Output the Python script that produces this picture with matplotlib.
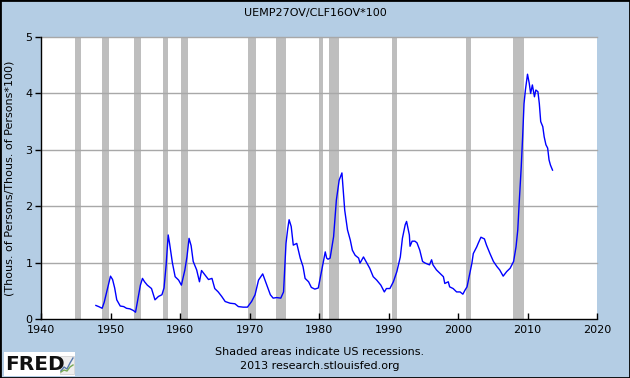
import matplotlib
matplotlib.use("Agg")
import matplotlib.pyplot as plt
import matplotlib.patches as mpatches

# series (decimal year, percent)
years = [1947.9, 1948.3, 1948.8, 1949.1, 1949.45, 1949.8, 1950.0, 1950.3, 1950.6, 1950.9,
         1951.4, 1951.9, 1952.3, 1952.8, 1953.3, 1953.6, 1954.0, 1954.3, 1954.6, 1954.9,
         1955.3, 1955.9, 1956.4, 1956.9, 1957.4, 1957.7, 1958.0, 1958.3, 1958.5, 1958.9,
         1959.3, 1959.8, 1960.2, 1960.7, 1961.0, 1961.3, 1961.6, 1961.9, 1962.4, 1962.8,
         1963.1, 1963.6, 1964.1, 1964.6, 1965.0, 1965.5, 1966.0, 1966.5, 1967.2, 1967.9,
         1968.4, 1969.1, 1969.7, 1970.3, 1970.8, 1971.3, 1971.9, 1972.4, 1973.0, 1973.4,
         1973.9, 1974.5, 1974.9, 1975.25, 1975.5, 1975.7, 1976.0, 1976.3, 1976.8, 1977.3,
         1977.7, 1978.0, 1978.5, 1978.9, 1979.4, 1979.9, 1980.4, 1980.9, 1981.1, 1981.3,
         1981.6, 1982.1, 1982.5, 1982.9, 1983.3, 1983.5, 1983.7, 1984.1, 1984.5, 1984.8,
         1985.2, 1985.7, 1985.9, 1986.4, 1986.9, 1987.3, 1987.8, 1988.3, 1988.9, 1989.4,
         1989.7, 1990.2, 1990.7, 1991.2, 1991.7, 1992.0, 1992.4, 1992.6, 1993.0, 1993.1,
         1993.4, 1993.8, 1994.1, 1994.5, 1994.9, 1995.3, 1995.9, 1996.2, 1996.4, 1996.9,
         1997.4, 1997.9, 1998.1, 1998.6, 1998.8, 1999.3, 1999.8, 2000.3, 2000.7, 2001.0,
         2001.3, 2001.6, 2002.0, 2002.2, 2002.7, 2002.9, 2003.3, 2003.8, 2004.1, 2004.6,
         2005.1, 2005.6, 2006.0, 2006.5, 2007.0, 2007.5, 2008.0, 2008.35, 2008.6, 2008.8,
         2009.1, 2009.3, 2009.5, 2009.7, 2010.0, 2010.25, 2010.45, 2010.7, 2011.0, 2011.2,
         2011.5, 2011.7, 2011.9, 2012.2, 2012.4, 2012.65, 2012.9, 2013.1, 2013.3, 2013.6]
values = [0.24, 0.22, 0.19, 0.30, 0.48, 0.66, 0.76, 0.70, 0.55, 0.34,
          0.23, 0.22, 0.19, 0.18, 0.15, 0.12, 0.40, 0.60, 0.72, 0.66,
          0.60, 0.54, 0.34, 0.40, 0.43, 0.55, 0.95, 1.49, 1.34, 1.00,
          0.75, 0.69, 0.60, 0.87, 1.10, 1.43, 1.30, 1.02, 0.87, 0.66,
          0.86, 0.78, 0.70, 0.72, 0.54, 0.48, 0.40, 0.31, 0.28, 0.27,
          0.22, 0.21, 0.21, 0.31, 0.43, 0.69, 0.80, 0.63, 0.43, 0.37,
          0.38, 0.37, 0.48, 1.34, 1.60, 1.76, 1.64, 1.31, 1.34, 1.08,
          0.93, 0.72, 0.66, 0.56, 0.53, 0.55, 0.87, 1.19, 1.08, 1.06,
          1.08, 1.46, 2.11, 2.46, 2.59, 2.26, 1.93, 1.58, 1.40, 1.22,
          1.13, 1.08, 0.99, 1.10, 0.99, 0.90, 0.75, 0.69, 0.60, 0.48,
          0.54, 0.54, 0.66, 0.84, 1.10, 1.43, 1.67, 1.73, 1.49, 1.29,
          1.38, 1.38, 1.35, 1.22, 1.02, 0.99, 0.96, 1.05, 0.96, 0.87,
          0.81, 0.75, 0.63, 0.66, 0.57, 0.54, 0.48, 0.48, 0.44, 0.51,
          0.57, 0.75, 0.99, 1.16, 1.28, 1.34, 1.45, 1.42, 1.31, 1.16,
          1.02, 0.93, 0.87, 0.76, 0.84, 0.90, 1.02, 1.28, 1.58, 2.05,
          2.70, 3.23, 3.82, 4.06, 4.34, 4.18, 4.00, 4.15, 3.94, 4.06,
          4.03, 3.82, 3.50, 3.41, 3.23, 3.09, 3.03, 2.82, 2.73, 2.64]

recession_start = [1944.95, 1948.75, 1953.45, 1957.5, 1960.2, 1969.85, 1973.75,
                   1979.95, 1981.45, 1990.45, 2001.1, 2007.85]
recession_end = [1945.8, 1949.8, 1954.4, 1958.3, 1961.15, 1970.9, 1975.25,
                 1980.6, 1982.9, 1991.25, 2001.9, 2009.5]

x_ticks = [1940, 1950, 1960, 1970, 1980, 1990, 2000, 2010, 2020]
y_ticks = [0, 1, 2, 3, 4, 5]

bg = '#b4cde4'
fig = plt.figure(figsize=(6.3, 3.78), dpi=100, facecolor=bg)
ax = fig.add_axes([41 / 630, 1 - 319 / 378, 556 / 630, 282 / 378])
ax.set_facecolor('white')

for s, e in zip(recession_start, recession_end):
    ax.axvspan(s, e, color='#bebebe', lw=0, zorder=1)

for v in y_ticks[1:]:
    ax.axhline(v, color='#a8a8a8', lw=1, zorder=2, clip_on=False)

ax.plot(years, values, color='#0000ff', lw=1, zorder=3)

ax.set_xlim(1940, 2020)
ax.set_ylim(0, 5)
ax.set_xticks(x_ticks)
ax.set_yticks(y_ticks)
ax.tick_params(axis='x', direction='in', length=4, width=1, labelsize=8, pad=4)
ax.tick_params(axis='y', direction='out', length=4, width=1, labelsize=8, pad=2)
for sp in ['top', 'right']:
    ax.spines[sp].set_visible(False)
for sp in ['left', 'bottom']:
    ax.spines[sp].set_linewidth(1)

ax.set_ylabel('(Thous. of Persons/Thous. of Persons*100)', fontsize=8, labelpad=8)
fig.text(0.5, 1 - 13 / 378, 'UEMP27OV/CLF16OV*100', ha='center', va='center', fontsize=8)
fig.text(320 / 630, 1 - 352 / 378, 'Shaded areas indicate US recessions.',
         ha='center', va='center', fontsize=8)
fig.text(320 / 630, 1 - 366 / 378, '2013 research.stlouisfed.org',
         ha='center', va='center', fontsize=8)

# FRED logo box
logo = fig.add_axes([4 / 630, 1 - 376 / 378, 71 / 630, 24 / 378])
logo.set_xlim(0, 71)
logo.set_ylim(0, 24)
logo.axis('off')
logo.add_patch(mpatches.Rectangle((0, 0), 71, 24, facecolor='white', edgecolor='none'))
logo.text(1, 11, 'FRED', fontsize=14.5, fontweight='heavy', color='#111111',
          va='center', ha='left', family='DejaVu Sans')
logo.add_patch(mpatches.Rectangle((56, 2), 14, 18, facecolor='#eeeeee', edgecolor='#cccccc', lw=0.5))
logo.plot([57, 60, 63, 66, 69], [5, 9, 7, 13, 18], color='#5577aa', lw=1)
logo.plot([57, 60, 63, 66, 69], [4, 6, 5, 9, 11], color='#77aa55', lw=1)

fig.add_artist(mpatches.Rectangle((0, 0), 1, 1, transform=fig.transFigure,
                                  fill=False, edgecolor='black', lw=2))

fig.savefig('out.png', dpi=100, facecolor=bg)
